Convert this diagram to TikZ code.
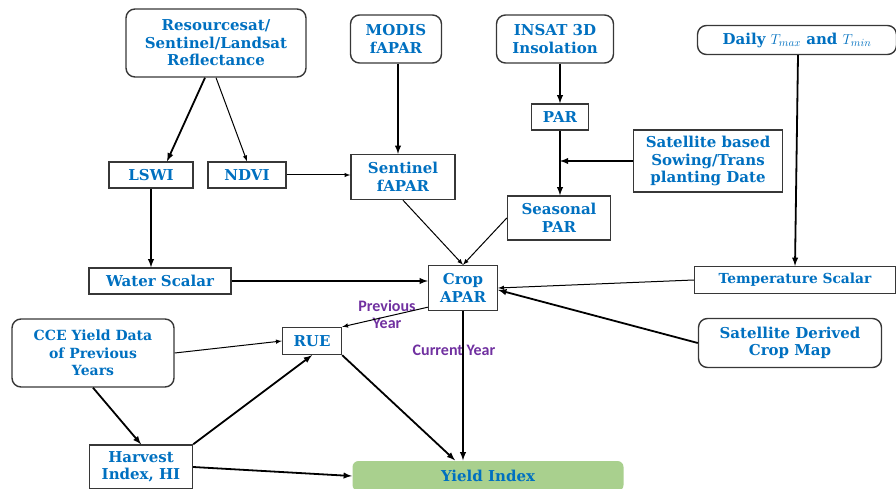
\documentclass[tikz,border=0pt]{standalone}
\usepackage{fontspec}
\setmainfont{DejaVu Serif}
\newfontfamily\labelfont{Carlito}
\usepackage{xcolor}
\definecolor{box_blue}{RGB}{0,112,192}
\definecolor{label_purple}{RGB}{112,48,160}
\definecolor{yield_green}{RGB}{169,208,142}
\definecolor{edge_gray}{RGB}{55,55,55}
\usepackage{tikz}
\tikzstyle{block} = [rectangle, draw=edge_gray, line width=1.4pt, text=box_blue, inner sep=0pt,
                    font=\bfseries\fontsize{15}{17.5}\selectfont, align=center]
\tikzstyle{source} = [block, rounded corners=9pt]
\tikzstyle{result} = [block, rounded corners=6pt, draw=none, fill=yield_green]
\tikzstyle{arrow} = [line width=1.8pt, -latex, black]
\tikzstyle{thinarrow} = [line width=1pt, -latex, black]
\tikzstyle{tag} = [text=label_purple, inner sep=0pt, align=center,
                  font=\labelfont\bfseries\fontsize{16}{17}\selectfont]

\begin{document}
\begin{tikzpicture}[x=1pt, y=-1pt]

    \useasboundingbox (0,0) rectangle (896,489);

    % inputs
    \node[source, minimum width=180pt, minimum height=68pt] (reflect) at (216,43) {Resourcesat/\\Sentinel/Landsat\\Reflectance};
    \node[source, minimum width=91pt, minimum height=48pt] (modis) at (396,39) {MODIS\\fAPAR};
    \node[source, minimum width=117pt, minimum height=48pt] (insat) at (555,39) {INSAT 3D\\Insolation};
    \node[source, minimum width=199pt, minimum height=29pt] (temps) at (797,40) {Daily $T_{max}$ and $T_{min}$};
    \node[source, minimum width=183pt, minimum height=49pt] (cropmap) at (790,343) {Satellite Derived\\Crop Map};
    \node[source, minimum width=162pt, minimum height=68pt, font=\bfseries\fontsize{14}{17.5}\selectfont] (cce) at (93,353) {CCE Yield Data\\of Previous\\Years};

    % derived layers
    \node[block, minimum width=84pt, minimum height=26pt] (lswi) at (151,175) {LSWI};
    \node[block, minimum width=78pt, minimum height=26pt] (ndvi) at (247,175) {NDVI};
    \node[block, minimum width=104pt, minimum height=45pt] (sentinel) at (403,177) {Sentinel\\fAPAR};
    \node[block, minimum width=57pt, minimum height=26pt] (par) at (560,117) {PAR};
    \node[block, minimum width=149pt, minimum height=62pt] (sowing) at (708,161) {Satellite based\\Sowing/Trans\\planting Date};
    \node[block, minimum width=103pt, minimum height=44pt] (seasonal) at (559,218) {Seasonal\\PAR};
    \node[block, minimum width=142pt, minimum height=26pt] (water) at (160,281) {Water Scalar};
    \node[block, minimum width=69pt, minimum height=45pt] (apar) at (463,288) {Crop\\APAR};
    \node[block, minimum width=201pt, minimum height=27pt, font=\bfseries\fontsize{13.8}{17.5}\selectfont] (tscalar) at (795,280) {Temperature Scalar};
    \node[block, minimum width=59pt, minimum height=27pt] (rue) at (312,341) {RUE};
    \node[block, minimum width=103pt, minimum height=44pt] (hi) at (141,467) {Harvest\\Index, HI};
    \node[result, minimum width=271pt, minimum height=30pt] (yield) at (488,476) {Yield Index};

    % labels
    \node[tag] (prev) at (387,314) {Previous\\Year};
    \node[tag] (curr) at (454,350) {Current Year};

    % connectors
    \draw[arrow] ([xshift=-11pt]reflect.south) to ([xshift=16pt]lswi.north);
    \draw[thinarrow] (reflect.south) to (ndvi.north);
    \draw[thinarrow] (ndvi.east) to (ndvi.east -| sentinel.west);
    \draw[arrow] ([xshift=2pt]modis.south) to ([xshift=2pt]modis.south |- sentinel.north);
    \draw[arrow] (insat.south -| par.north) to (par.north);
    \draw[arrow] (par.south) to (par.south |- seasonal.north);
    \draw[arrow] (sowing.west) to (sowing.west -| par.south);
    \draw[thinarrow] (sentinel.south) to (apar.north);
    \draw[thinarrow] (seasonal.west) to (apar.north);
    \draw[arrow] (lswi.south) to (lswi.south |- water.north);
    \draw[arrow] (water.east) to (water.east -| apar.west);
    \draw[arrow] ([xshift=1pt]temps.south) to (tscalar.north);
    \draw[thinarrow] (tscalar.west) to (apar.east);
    \draw[arrow] (cropmap.west) to ([yshift=-2pt]apar.east);
    \draw[thinarrow] ([yshift=4pt]apar.south west) to (rue.north east);
    \draw[arrow] (apar.south) to (apar.south |- yield.north);
    \draw[thinarrow] (cce.east) to (rue.west);
    \draw[arrow] (cce.south) to (hi.north);
    \draw[arrow] (hi.north east) to (rue.south);
    \draw[arrow] (hi.east) to (yield.west);
    \draw[arrow] (rue.south east) to ([xshift=-33pt]yield.north);

\end{tikzpicture}
\end{document}
